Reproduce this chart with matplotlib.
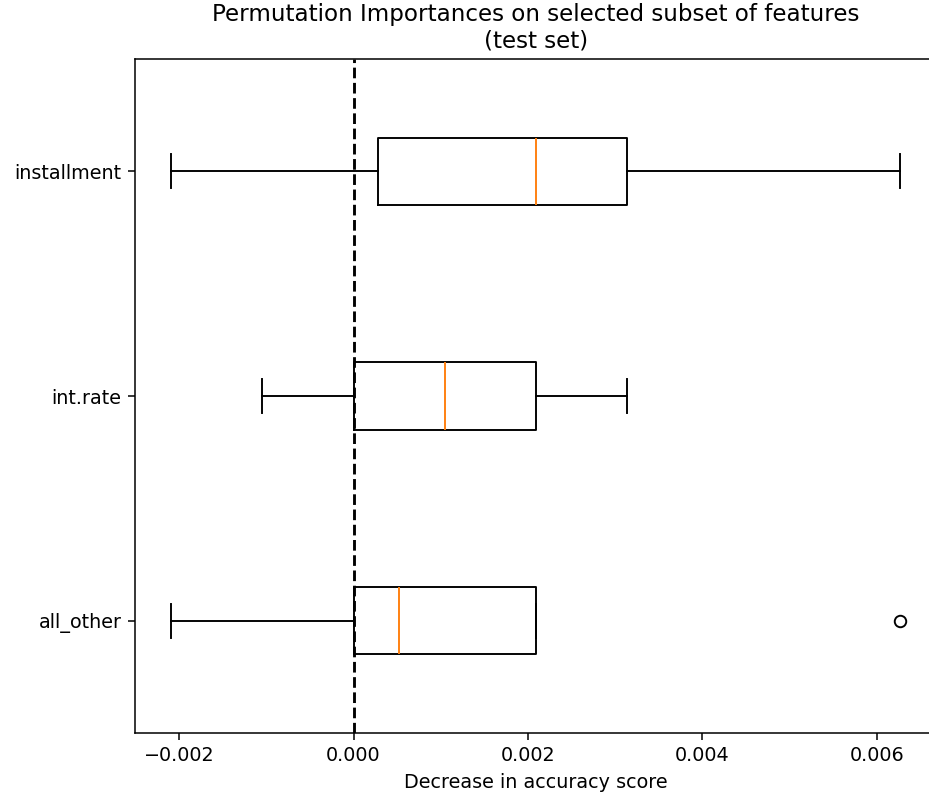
import matplotlib.pyplot as plt

# (decrease in accuracy score)
features = ["all_other", "int.rate", "installment"]
whislo = [-0.002088, -0.001044, -0.002088]
q1 = [0.0, 0.0, 0.000275]
med = [0.000522, 0.001044, 0.002088]
q3 = [0.002088, 0.002088, 0.003132]
whishi = [0.002088, 0.003132, 0.006263]
fliers = [[0.006263], [], []]

stats = []
for i in range(len(features)):
    stats.append({"label": features[i], "whislo": whislo[i], "q1": q1[i],
                  "med": med[i], "q3": q3[i], "whishi": whishi[i],
                  "fliers": fliers[i]})

dpi = 138
fig = plt.figure(figsize=(929 / dpi, 792 / dpi), dpi=dpi)
ax = fig.add_axes([0.1453, 0.0745, 0.8626, 0.851])

ax.bxp(stats, vert=False, widths=0.3)
ax.axvline(x=0, color="k", linestyle="--")
ax.margins(x=0.05)
ax.set_ylim(0.5, 3.5)
ax.set_title("Permutation Importances on selected subset of features\n(test set)")
ax.set_xlabel("Decrease in accuracy score")

fig.savefig("out.png", dpi=dpi)
